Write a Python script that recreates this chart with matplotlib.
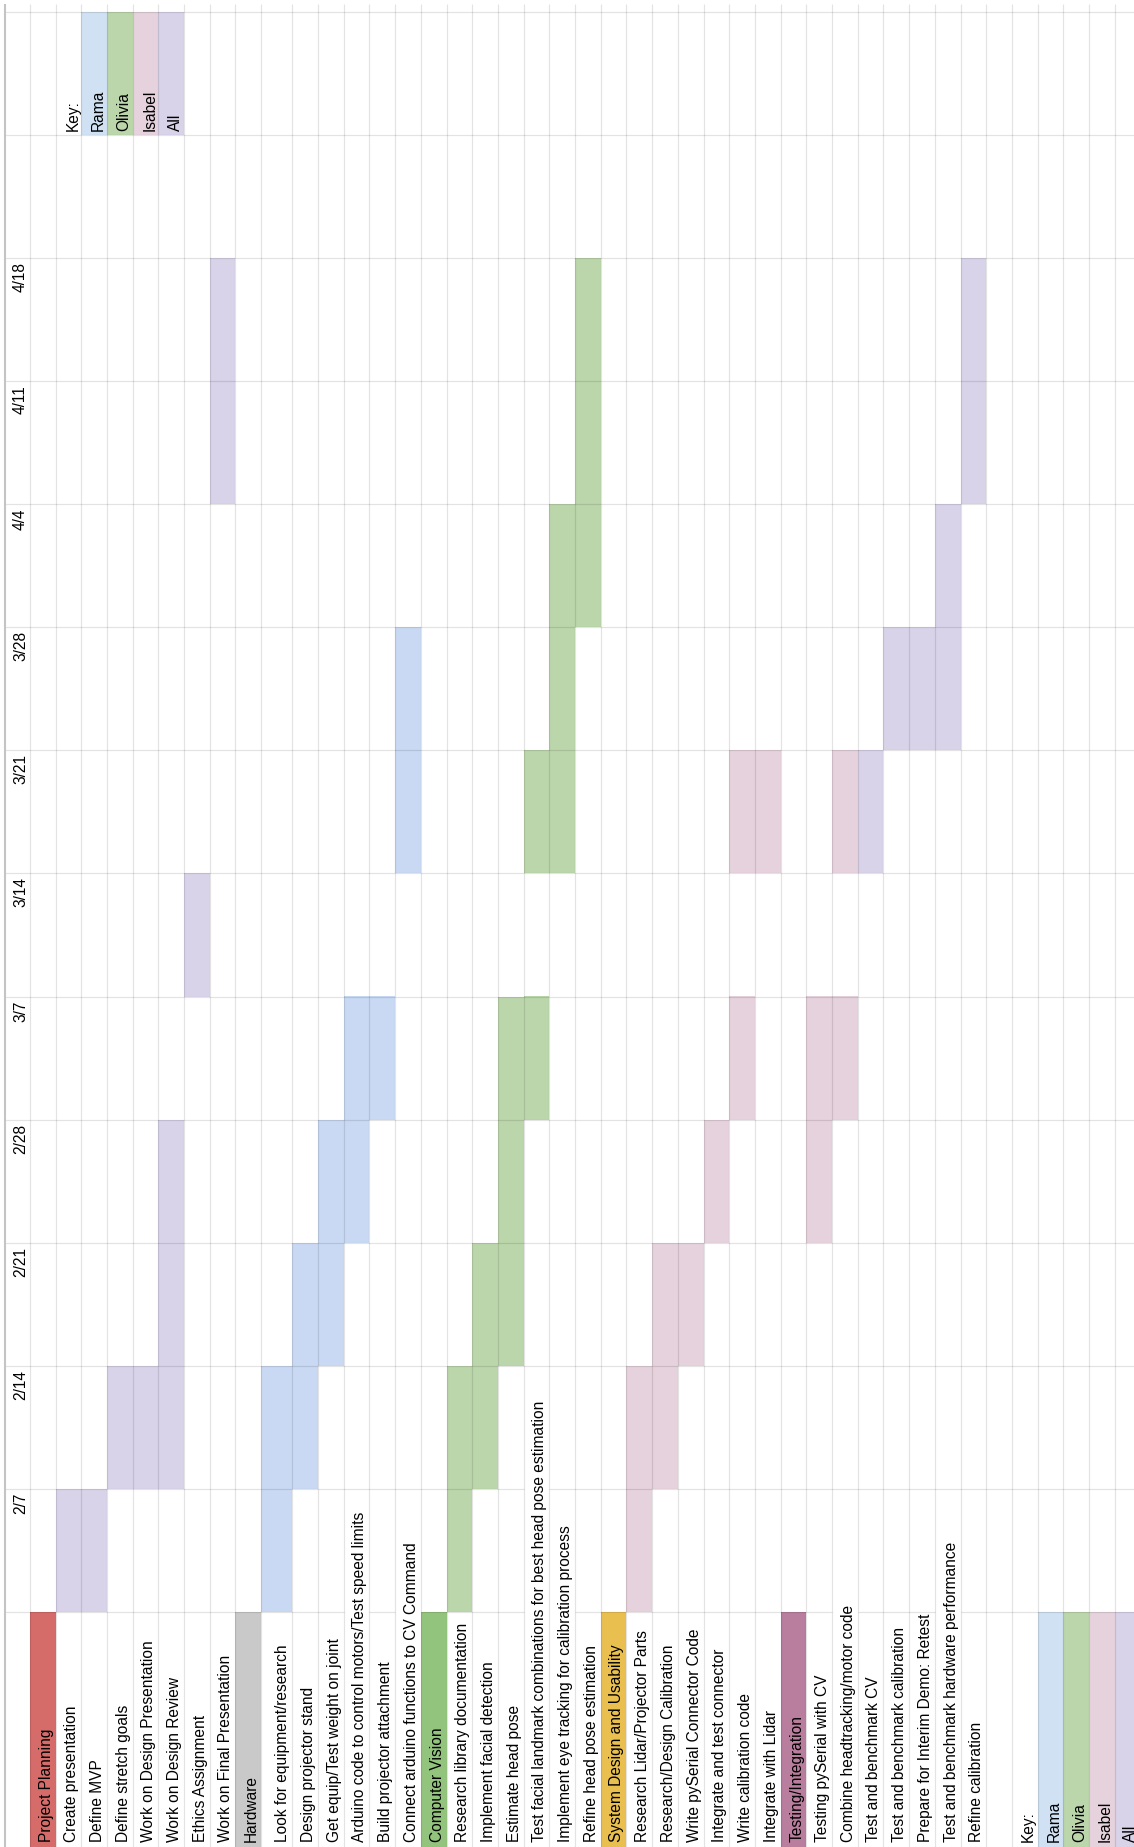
import numpy as np
import matplotlib.pyplot as plt

plt.rcParams['font.family'] = ['Liberation Sans', 'DejaVu Sans']

# week rows, bottom (first week) to top
weeks = ['2/7', '2/14', '2/21', '2/28', '3/7', '3/14', '3/21', '3/28', '4/4', '4/11', '4/18']

# header row, one label per sheet column
tasks = ['Project Planning', 'Create presentation', 'Define MVP', 'Define stretch goals',
         'Work on Design Presentation', 'Work on Design Review', 'Ethics Assignment',
         'Work on Final Presentation', 'Hardware', 'Look for equipment/research',
         'Design projector stand', 'Get equip/Test weight on joint',
         'Arduino code to control motors/Test speed limits', 'Build projector attachment',
         'Connect arduino functions to CV Command', 'Computer Vision',
         'Research library documentation', 'Implement facial detection', 'Estimate head pose',
         'Test facial landmark combinations for best head pose estimation',
         'Implement eye tracking for calibration process', 'Refine head pose estimation',
         'System Design and Usability', 'Research Lidar/Projector Parts',
         'Research/Design Calibration', 'Write pySerial Connector Code',
         'Integrate and test connector', 'Write calibration code', 'Integrate with Lidar',
         'Testing/Integration', 'Testing pySerial with CV', 'Combine headtracking/motor code',
         'Test and benchmark CV', 'Test and benchmark calibration',
         'Prepare for Interim Demo: Retest', 'Test and benchmark hardware performance',
         'Refine calibration', '', 'Key:', 'Rama', 'Olivia', 'Isabel', 'All']

sections = ['Project Planning', 'Hardware', 'Computer Vision',
            'System Design and Usability', 'Testing/Integration']
section_colors = ['#d66c6a', '#c9c9c9', '#93c47d', '#e9c050', '#b97d9e']

people = ['Rama', 'Olivia', 'Isabel', 'All']
key_colors = ['#cfe1f2', '#bcd6ac', '#e6d2dc', '#d8d3e8']
bar_colors = ['#c9d9f3', '#bcd6ac', '#e6d2dc', '#d8d3e8']

# scheduled blocks: task, first week, number of weeks, owner
bar_task = ['Create presentation', 'Define MVP', 'Define stretch goals',
            'Work on Design Presentation', 'Work on Design Review', 'Ethics Assignment',
            'Work on Final Presentation',
            'Look for equipment/research', 'Design projector stand',
            'Get equip/Test weight on joint',
            'Arduino code to control motors/Test speed limits', 'Build projector attachment',
            'Connect arduino functions to CV Command',
            'Research library documentation', 'Implement facial detection', 'Estimate head pose',
            'Test facial landmark combinations for best head pose estimation',
            'Test facial landmark combinations for best head pose estimation',
            'Implement eye tracking for calibration process', 'Refine head pose estimation',
            'Research Lidar/Projector Parts', 'Research/Design Calibration',
            'Write pySerial Connector Code', 'Integrate and test connector',
            'Write calibration code', 'Write calibration code', 'Integrate with Lidar',
            'Testing pySerial with CV', 'Combine headtracking/motor code',
            'Combine headtracking/motor code',
            'Test and benchmark CV', 'Test and benchmark calibration',
            'Prepare for Interim Demo: Retest', 'Test and benchmark hardware performance',
            'Refine calibration']
bar_start = ['2/7', '2/7', '2/14', '2/14', '2/14', '3/14', '4/11',
             '2/7', '2/14', '2/21', '2/28', '3/7', '3/21',
             '2/7', '2/14', '2/21', '3/7', '3/21', '3/21', '4/4',
             '2/7', '2/14', '2/21', '2/28', '3/7', '3/21', '3/21',
             '2/28', '3/7', '3/21',
             '3/21', '3/28', '3/28', '3/28', '4/11']
bar_weeks = [1, 1, 1, 1, 3, 1, 2,
             2, 2, 2, 2, 1, 2,
             2, 2, 3, 1, 1, 3, 3,
             2, 2, 1, 1, 1, 1, 1,
             2, 1, 1,
             1, 1, 1, 2, 2]
bar_owner = ['All'] * 7 + ['Rama'] * 6 + ['Olivia'] * 7 + ['Isabel'] * 10 + ['All'] * 5

# sheet geometry (pixels)
W, H = 1134, 1847
ROW = 123.1
HEAD = (H - 1612) / ROW
TOP = 1612 / ROW
px = 1 / ROW
widths = [25] + [25.67] * 9 + [31.3] + [25.7] * 33
edges = np.concatenate([[5], 5 + np.cumsum(widths)])
grid = (0, 0, 0, 0.11)
fs = 11.2

fig = plt.figure(figsize=(W / 100, H / 100), dpi=100)
ax = fig.add_axes([0, 0, 1, 1])
ax.set_xlim(0, W)
ax.set_ylim(-HEAD, TOP)
ax.axis('off')

for t, s, n, o in zip(bar_task, bar_start, bar_weeks, bar_owner):
    c = tasks.index(t) + 1
    ax.bar(edges[c], n, width=edges[c + 1] - edges[c], bottom=weeks.index(s),
           align='edge', color=bar_colors[people.index(o)], lw=0, zorder=1)

for name, col in zip(sections, section_colors):
    c = tasks.index(name) + 1
    ax.bar(edges[c], HEAD, width=edges[c + 1] - edges[c], bottom=-HEAD,
           align='edge', color=col, lw=0, zorder=1)

for name, col in zip(people, key_colors):
    c = tasks.index(name) + 1
    ax.bar(edges[c], HEAD, width=edges[c + 1] - edges[c], bottom=-HEAD,
           align='edge', color=col, lw=0, zorder=1)
    # small key at the top of the sheet
    k = people.index(name) + 3
    ax.bar(edges[k], 1, width=edges[k + 1] - edges[k], bottom=12,
           align='edge', color=col, lw=0, zorder=1)
    ax.text(edges[k + 1] - 4, 12 + 4 * px, name, rotation=90, rotation_mode='anchor',
            ha='left', va='baseline', fontsize=fs, zorder=3)
ax.text(edges[3] - 4, 12 + 4 * px, 'Key:', rotation=90, rotation_mode='anchor',
        ha='left', va='baseline', fontsize=fs, zorder=3)

for i, w in enumerate(weeks):
    ax.text(edges[1] - 5, i + 1 - 4 * px, w, rotation=90, rotation_mode='anchor',
            ha='right', va='baseline', fontsize=fs, zorder=3)

labels = []
for i, t in enumerate(tasks):
    c = i + 1
    labels.append((c, ax.text(edges[c + 1] - 5, -HEAD + 5 * px, t, rotation=90,
                              rotation_mode='anchor', ha='left', va='baseline',
                              fontsize=fs, zorder=3)))

# long labels overflow upwards and hide the grid lines they cross
fig.canvas.draw()
r = fig.canvas.get_renderer()
inv = ax.transData.inverted()
text_top = {}
for c, t in labels:
    bb = t.get_window_extent(r)
    text_top[c] = inv.transform((0, bb.y1))[1]

for k in range(0, 14):
    for c in range(len(edges) - 1):
        if text_top.get(c, -99) > k:
            continue
        ax.hlines(k, edges[c], edges[c + 1], color=grid, lw=0.85, zorder=2)

ax.vlines(edges[1:], -HEAD, TOP - 4 * px, color=grid, lw=0.85, zorder=2)
ax.vlines(edges[0], -HEAD, TOP - 4 * px, color='#c4c4c4', lw=1.5, zorder=2)

fig.savefig('out.png', dpi=100)
